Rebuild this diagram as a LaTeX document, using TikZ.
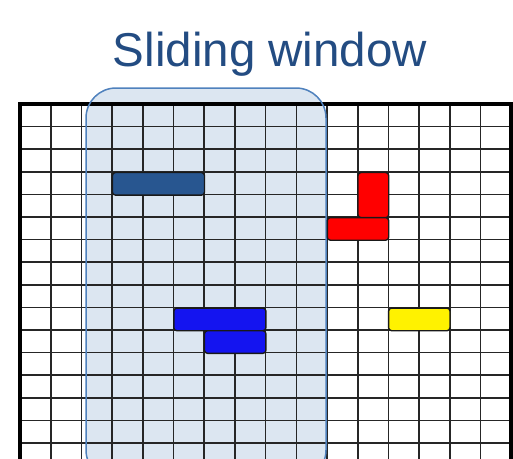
\documentclass[tikz,border=0pt]{standalone}
\usepackage{fontspec}
\setmainfont{Liberation Sans}
\definecolor{titleblue}{HTML}{234C82}
\definecolor{winfill}{HTML}{DCE6F1}
\definecolor{winedge}{HTML}{4F81BD}
\definecolor{darkbar}{HTML}{285690}
\definecolor{brightbar}{HTML}{1414F0}
\begin{document}
\begin{tikzpicture}[x=1pt,y=-1pt,
  gridline/.style={line width=1.6pt,black!85},
  border/.style={line width=4pt,black},
  blockbox/.style={draw=black!90,line width=1.4pt,rounded corners=3pt}]
\useasboundingbox (0,0) rectangle (513,458);
\clip (0,0) rectangle (513,458);
% window fill
\path[fill=winfill,rounded corners=30pt] (86,88) rectangle (326,480);
% grid
\foreach \i in {1,...,15} {
  \draw[gridline] ({20+\i*30.7},104) -- ({20+\i*30.7},470);
}
\foreach \j in {1,...,16} {
  \draw[gridline] (20,{104+\j*22.6}) -- (511,{104+\j*22.6});
}
\draw[border] (20,470) -- (20,104) -- (511,104) -- (511,470);
% window border
\draw[winedge,line width=1.5pt,rounded corners=30pt] (86,88) rectangle (326,480);
% blocks
\node[blockbox,fill=darkbar,minimum width=92.1pt,minimum height=22.6pt,inner sep=0pt,anchor=north west] (dark) at (111.7,171.8) {};
\node[blockbox,fill=red,minimum width=30.7pt,minimum height=45.2pt,inner sep=0pt,anchor=north west] (redv) at (357.3,171.8) {};
\node[blockbox,fill=red,minimum width=61.4pt,minimum height=22.6pt,inner sep=0pt,anchor=north west] (redh) at (326.6,216.9) {};
\node[blockbox,fill=brightbar,minimum width=92.1pt,minimum height=22.6pt,inner sep=0pt,anchor=north west] (blue1) at (173.1,307.4) {};
\node[blockbox,fill=brightbar,minimum width=61.4pt,minimum height=22.6pt,inner sep=0pt,anchor=north west] (blue2) at (203.8,330.0) {};
\node[blockbox,fill=yellow,minimum width=61.4pt,minimum height=22.6pt,inner sep=0pt,anchor=north west] (yellowbar) at (387.9,307.4) {};
% title
\node[text=titleblue,font=\fontsize{47.5}{57}\selectfont,anchor=base] (title) at (270,66) {Sliding window};
\end{tikzpicture}
\end{document}
